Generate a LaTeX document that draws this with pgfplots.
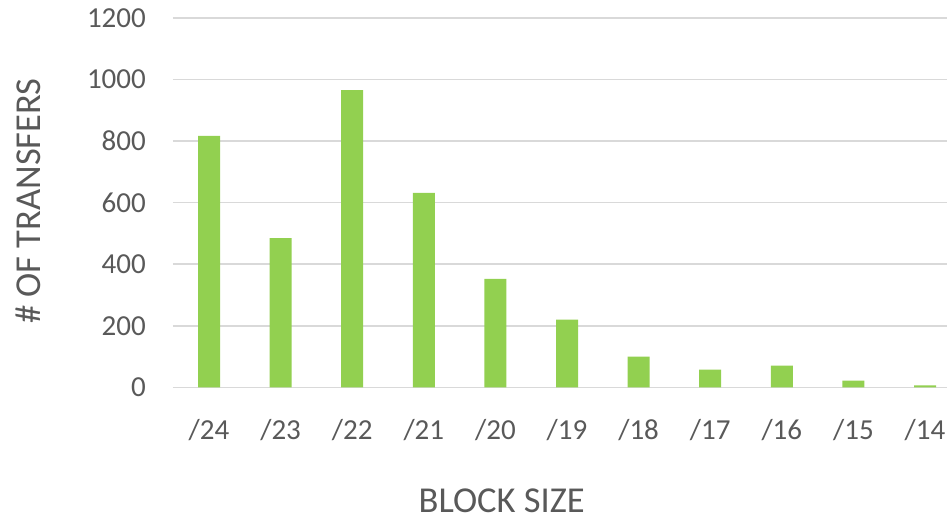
\documentclass[border=0pt]{standalone}
\usepackage{fontspec}
\setmainfont{Carlito}
\usepackage{pgfplots}
\pgfplotsset{compat=1.18}
\definecolor{barg}{HTML}{92D050}
\definecolor{txt}{HTML}{595959}
\definecolor{grd}{HTML}{D9D9D9}
\begin{document}
\begin{tikzpicture}
\path[use as bounding box] (-173pt,-132.7pt) rectangle (774pt,387.3pt);
\begin{axis}[
  at={(0pt,0pt)}, anchor=south west,
  scale only axis,
  width=774pt, height=369.6pt,
  xmin=-0.503, xmax=10.307,
  ymin=0, ymax=1200,
  ytick={0,200,...,1200},
  xtick={0,...,10},
  xticklabels={/24,/23,/22,/21,/20,/19,/18,/17,/16,/15,/14},
  axis line style={draw=none},
  major tick length=0pt,
  ymajorgrids, grid style={grd, line width=1.6pt},
  /pgf/number format/assume math mode=true,
  /pgf/number format/1000 sep={},
  tick label style={font=\fontsize{29}{35}\selectfont, text=txt},
  yticklabel style={anchor=east, inner sep=0pt, xshift=-27pt},
  xticklabel style={anchor=base, inner sep=0pt, yshift=-52pt},
  xlabel={BLOCK SIZE},
  ylabel={\# OF TRANSFERS},
  label style={font=\fontsize{36.5}{44}\selectfont, text=txt},
  xlabel style={at={(axis description cs:0.4247,-0.3076)}, anchor=center},
  ylabel style={at={(axis description cs:-0.1873,0.504)}, anchor=center, rotate=0},
  clip=false,
]
\addplot[ybar, bar width=22pt, fill=barg, draw=none] coordinates {
(0,816) (1,484) (2,965) (3,631) (4,352) (5,220) (6,100) (7,57) (8,70) (9,22) (10,6)
};
\end{axis}
\end{tikzpicture}
\end{document}
